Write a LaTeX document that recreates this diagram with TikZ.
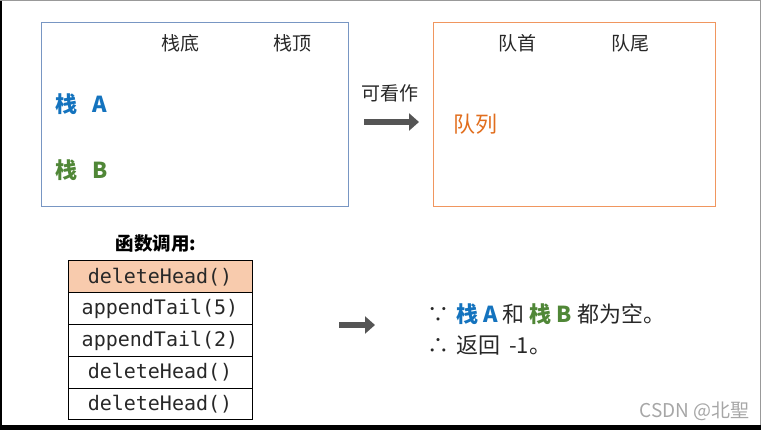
\documentclass[tikz,border=0pt]{standalone}
\usepackage{fontspec}
\setmainfont{Noto Sans CJK SC}
\newfontfamily\monof{DejaVu Sans Mono}
\usetikzlibrary{arrows.meta}
\definecolor{boxblue}{RGB}{120,150,195}
\definecolor{boxorange}{RGB}{240,150,95}
\definecolor{txtblue}{RGB}{20,115,190}
\definecolor{txtgreen}{RGB}{80,135,55}
\definecolor{txtorange}{RGB}{225,110,30}
\definecolor{rowfill}{RGB}{248,203,173}
\definecolor{arrgray}{RGB}{85,85,85}
\definecolor{txtdark}{RGB}{40,40,40}
\tikzset{
  frame/.style={draw, line width=1.3pt, inner sep=0pt},
  lbl/.style={font=\fontsize{19}{22}\selectfont, text=txtdark, inner sep=0pt},
  row/.style={draw=black, line width=1pt, minimum width=184pt, minimum height=31.8pt, inner sep=0pt, outer sep=0pt, font=\monof\fontsize{20}{22}\selectfont, text=txtdark},
  bigarrow/.style={draw=arrgray, line width=6.5pt, -{Triangle[length=10pt,width=17pt]}},
  note/.style={font=\fontsize{22}{26}\selectfont, text=txtdark, inner sep=0pt, anchor=west}
}
\newcommand{\gap}{\hspace{7pt}}
\begin{document}
\begin{tikzpicture}[x=1pt,y=-1pt]
\useasboundingbox (0,0) rectangle (761,430);
% outer border of screenshot
\fill[black] (0,0) rectangle (2,430);
\fill[black] (0,425) rectangle (761,430);
\draw[gray!80, line width=1pt] (0,0.5) -- (761,0.5);
\draw[gray!80, line width=1pt] (760,0) -- (760,425);
% stack box
\node[frame, draw=boxblue, minimum width=307pt, minimum height=184pt, anchor=north west] (stk) at (41,22) {};
\node[lbl] (sbot) at (180,43) {栈底};
\node[lbl] (stop) at (292,43) {栈顶};
\node[font=\fontsize{22}{24}\selectfont\bfseries, text=txtblue, inner sep=0pt, anchor=west] (sa) at (55,104) {栈\hspace{15pt}A};
\node[font=\fontsize{22}{24}\selectfont\bfseries, text=txtgreen, inner sep=0pt, anchor=west] (sb) at (55,170) {栈\hspace{15pt}B};
% middle arrow
\node[lbl] (kkz) at (390,93) {可看作};
\coordinate (a1s) at (364,122);
\coordinate (a1e) at (419,122);
\draw[bigarrow] (a1s) -- (a1e);
% queue box
\node[frame, draw=boxorange, minimum width=282pt, minimum height=184pt, anchor=north west] (que) at (433,22) {};
\node[lbl] (qh) at (517,43) {队首};
\node[lbl] (qt) at (630,43) {队尾};
\node[font=\fontsize{22}{24}\selectfont, text=txtorange, inner sep=0pt, anchor=west] (ql) at (453,124) {队列};
% function calls
\node[font=\fontsize{18.5}{20}\selectfont\bfseries, inner sep=0pt] (fc) at (156,244) {函数调用:};
\node[row, fill=rowfill, anchor=north west] (r1) at (68,261) {deleteHead()};
\node[row, anchor=north] (r2) at (r1.south) {appendTail(5)};
\node[row, anchor=north] (r3) at (r2.south) {appendTail(2)};
\node[row, anchor=north] (r4) at (r3.south) {deleteHead()};
\node[row, anchor=north] (r5) at (r4.south) {deleteHead()};
% result arrow
\coordinate (a2s) at (339,325);
\coordinate (a2e) at (375,325);
\draw[bigarrow] (a2s) -- (a2e);
\node[note] (n1) at (427,314) {∵\gap\textcolor{txtblue}{\bfseries 栈\hspace{5pt}A}\hspace{5pt}和\hspace{5pt}\textcolor{txtgreen}{\bfseries 栈\hspace{5pt}B}\hspace{5pt}都为空。};
\node[note] (n2) at (427,345) {∴\gap 返回\hspace{9pt}-1。};
% watermark
\node[font=\fontsize{19}{22}\selectfont, text=gray!70, inner sep=0pt, anchor=east] (wm) at (750,411) {CSDN @北聖};
\end{tikzpicture}
\end{document}
